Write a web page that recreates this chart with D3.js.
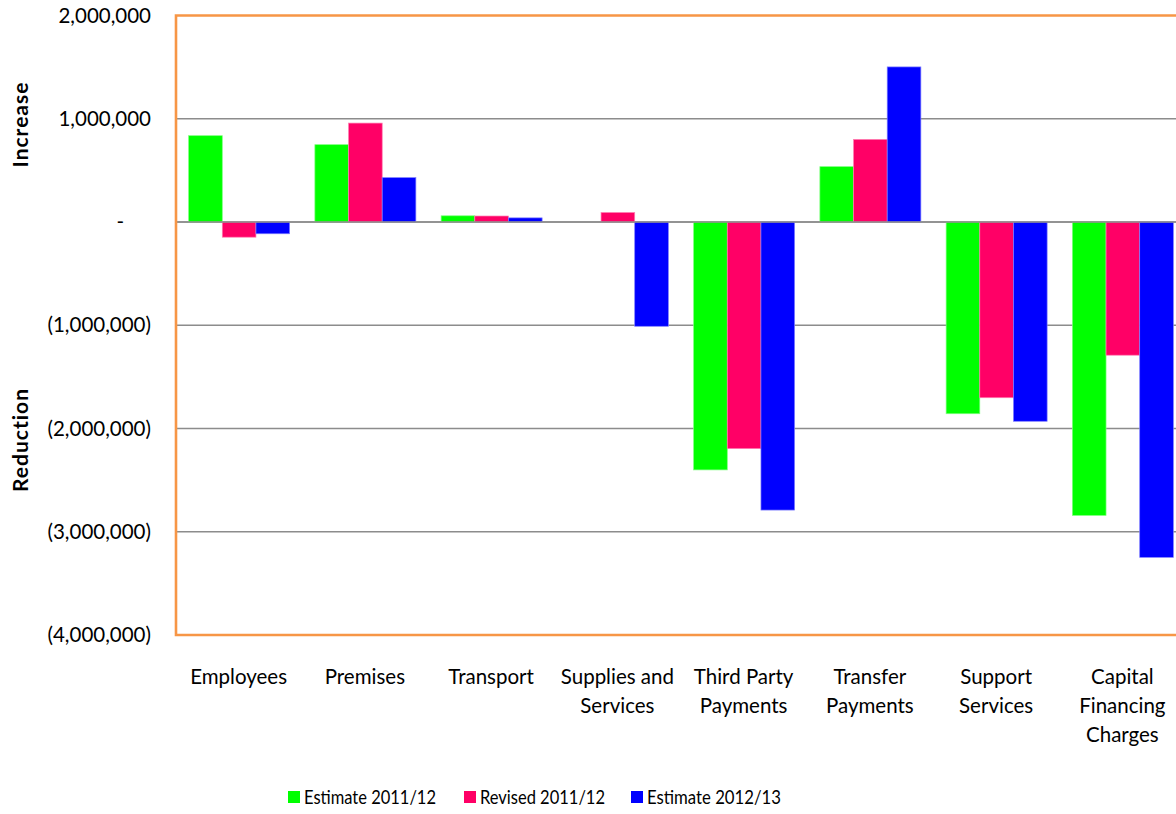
<!DOCTYPE html>
<html>
<head>
<meta charset="utf-8">
<script src="https://cdn.jsdelivr.net/npm/d3@7"></script>
<style>
body { margin: 0; background: #fff; }
text { font-family: Lato, "Open Sans", sans-serif; fill: #000; }
</style>
</head>
<body>
<div class="canva"></div>
<script>
// daten
const categories = ['Employees', 'Premises', 'Transport', 'Supplies and Services', 'Third Party Payments', 'Transfer Payments', 'Support Services', 'Capital Financing Charges'];
const catLines = [['Employees'], ['Premises'], ['Transport'], ['Supplies and', 'Services'], ['Third Party', 'Payments'], ['Transfer', 'Payments'], ['Support', 'Services'], ['Capital', 'Financing', 'Charges']];
const seriesNames = ['Estimate 2011/12', 'Revised 2011/12', 'Estimate 2012/13'];
const estimate1112 = [836000, 749000, 60000, 0, -2401000, 536000, -1857000, -2842000];
const revised1112 = [-147000, 958000, 58000, 92000, -2195000, 800000, -1702000, -1290000];
const estimate1213 = [-114000, 430000, 40000, -1010000, -2790000, 1502000, -1930000, -3248000];
const yTicks = [2000000, 1000000, 0, -1000000, -2000000, -3000000, -4000000];
const colors = ['#00ff00', '#ff0066', '#0000ff'];
const strokes = ['#7fff7f', '#ff7fb2', '#7f7fff'];

const series = [estimate1112, revised1112, estimate1213];

const svg = d3.select('.canva').append('svg')
  .attr('width', 1176)
  .attr('height', 814);

const pLeft = 176, pRight = 1186, pTop = 15.5, pBottom = 635;

const y = d3.scaleLinear().domain([-4000000, 2000000]).range([pBottom, pTop]);
const x0 = d3.scaleBand().domain(categories).range([pLeft, pRight]);
const x1 = d3.scaleBand().domain(d3.range(3)).range([x0.bandwidth() * 0.1, x0.bandwidth() * 0.9]);

// gitterlinien
svg.append('g')
  .selectAll('line')
  .data(yTicks.filter(t => t > -4000000 && t < 2000000))
  .enter()
  .append('line')
  .attr('x1', pLeft)
  .attr('x2', 1176)
  .attr('y1', d => y(d))
  .attr('y2', d => y(d))
  .attr('stroke', '#8c8c8c')
  .attr('stroke-width', 1.6);

// balken
const groups = svg.append('g')
  .selectAll('g')
  .data(categories)
  .enter()
  .append('g')
  .attr('transform', d => 'translate(' + x0(d) + ',0)');

groups.selectAll('rect')
  .data((d, i) => series.map((s, k) => ({ k: k, v: s[i] })))
  .enter()
  .append('rect')
  .attr('x', d => x1(d.k))
  .attr('width', x1.bandwidth())
  .attr('y', d => y(Math.max(0, d.v)))
  .attr('height', d => Math.abs(y(d.v) - y(0)))
  .attr('fill', d => colors[d.k])
  .attr('stroke', d => strokes[d.k])
  .attr('stroke-width', 0.7);

// nulllinie drueber
svg.append('line')
  .attr('x1', pLeft).attr('x2', 1176)
  .attr('y1', y(0)).attr('y2', y(0))
  .attr('stroke', '#8c8c8c')
  .attr('stroke-width', 1.6);

// rahmen orange
svg.append('path')
  .attr('d', 'M1176,' + pTop + 'H' + pLeft + 'V' + pBottom + 'H1176')
  .attr('fill', 'none')
  .attr('stroke', '#f79646')
  .attr('stroke-width', 2.6);

// y achse beschriftung
const fmt = d3.format(',');
svg.append('g')
  .selectAll('text')
  .data(yTicks)
  .enter()
  .append('text')
  .attr('x', d => d === 0 ? 124 : 151)
  .attr('y', d => y(d))
  .attr('dy', '0.35em')
  .attr('text-anchor', 'end')
  .style('font-size', '20.5px')
  .text(d => d === 0 ? '-' : d < 0 ? '(' + fmt(-d) + ')' : fmt(d));

// x achse beschriftung
svg.append('g')
  .selectAll('text')
  .data(categories)
  .enter()
  .append('text')
  .attr('x', d => x0(d) + x0.bandwidth() / 2 - 0.5)
  .attr('y', 684)
  .attr('text-anchor', 'middle')
  .style('font-size', '20.5px')
  .each(function(d, i) {
    d3.select(this).selectAll('tspan')
      .data(catLines[i])
      .enter()
      .append('tspan')
      .attr('x', x0(d) + x0.bandwidth() / 2 - 0.5)
      .attr('dy', (t, j) => j === 0 ? 0 : 29)
      .text(t => t);
  });

// achsentitel
svg.append('text')
  .attr('transform', 'translate(28,124.5) rotate(-90)')
  .attr('text-anchor', 'middle')
  .style('font-size', '21px')
  .style('font-weight', 'bold')
  .style('letter-spacing', '1px')
  .text('Increase');

svg.append('text')
  .attr('transform', 'translate(28,440) rotate(-90)')
  .attr('text-anchor', 'middle')
  .style('font-size', '21px')
  .style('font-weight', 'bold')
  .style('letter-spacing', '1px')
  .text('Reduction');

// legende
const legendX = [288, 464, 631];
const legendW = [132, 125, 134];
const legend = svg.append('g')
  .selectAll('g')
  .data(seriesNames)
  .enter()
  .append('g')
  .attr('transform', (d, i) => 'translate(' + legendX[i] + ',791)');

legend.append('rect')
  .attr('width', 12)
  .attr('height', 12)
  .attr('fill', (d, i) => colors[i]);

legend.append('text')
  .attr('x', 16)
  .attr('y', 6)
  .attr('dy', '0.35em')
  .style('font-size', '20px')
  .attr('textLength', (d, i) => legendW[i])
  .attr('lengthAdjust', 'spacingAndGlyphs')
  .text(d => d);
</script>
</body>
</html>
